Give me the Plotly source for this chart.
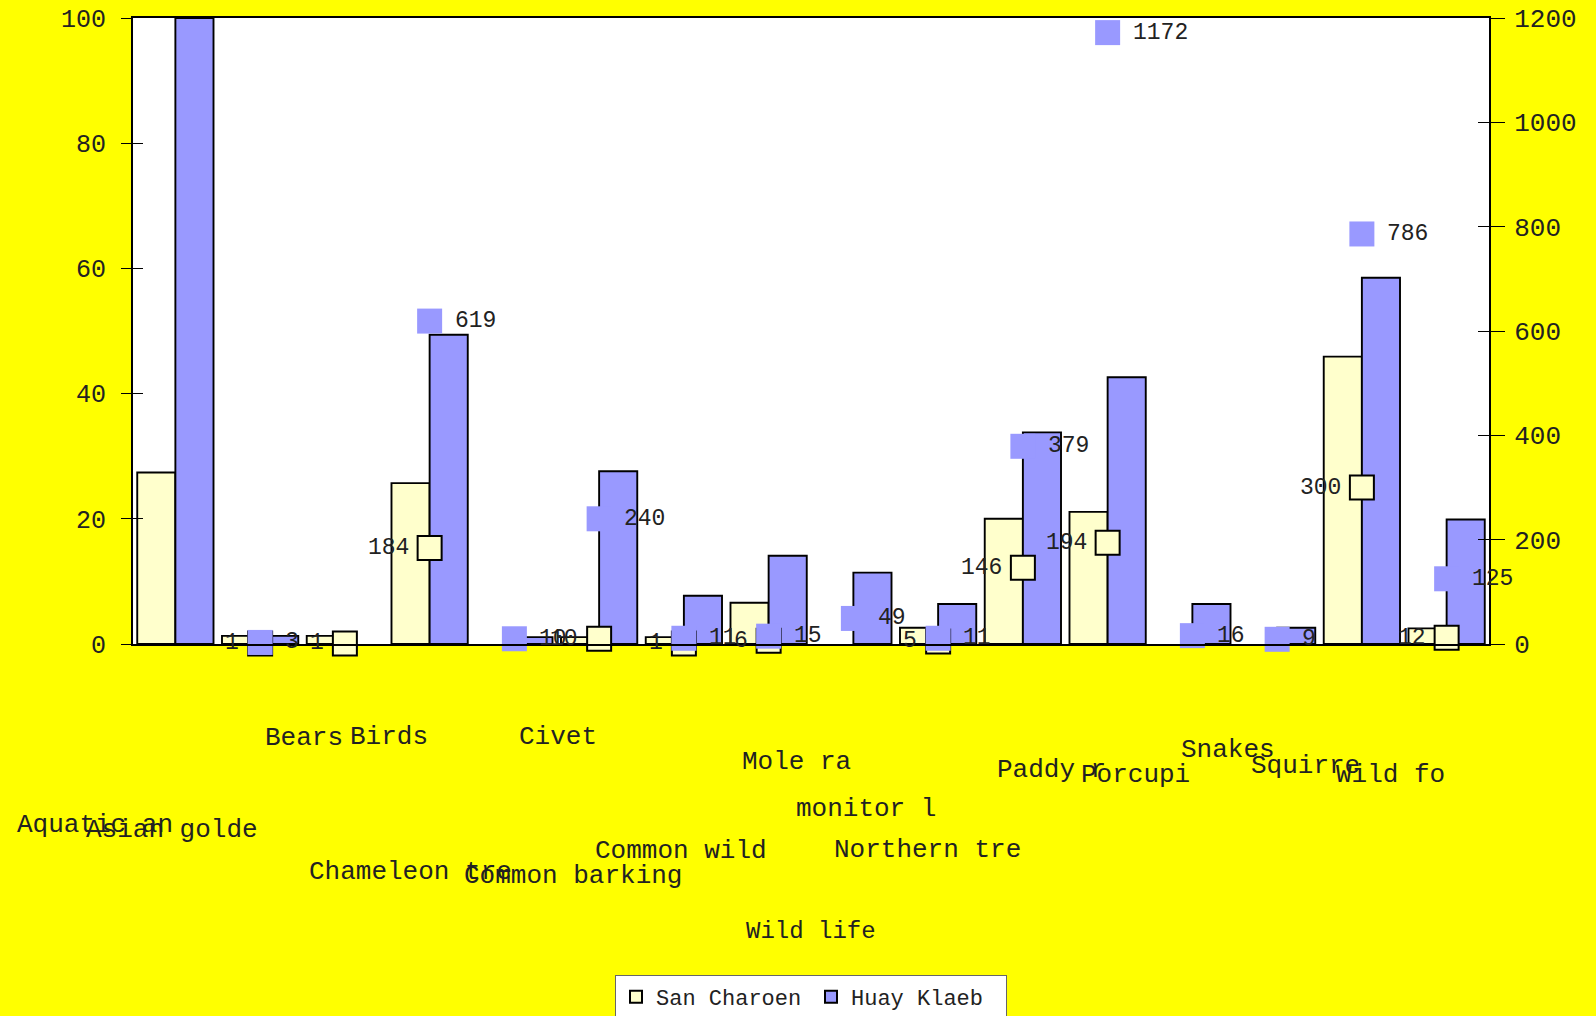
import plotly.graph_objects as go

# ---- data -------------------------------------------------------------
categories = [
    "Aquatic an", "Asian golde", "Bears", "Birds", "Chameleon tre", "Civet",
    "Common barking", "Common wild", "Mole ra", "monitor l", "Northern tre",
    "Paddy r", "Porcupi", "Snakes", "Squirre", "Wild fo",
]
series_names = ["San Charoen", "Huay Klaeb"]

# share of animals (%), left axis
san_charoen_pct = [27.4, 1.3, 1.3, 25.7, None, 1.1, 1.1, 6.6, None, 2.6,
                   20.0, 21.1, None, None, 45.9, 2.5]
huay_klaeb_pct = [100, 1.3, None, 49.4, 1.1, 27.6, 7.7, 14.1, 11.4, 6.4,
                  33.8, 42.6, 6.4, 2.6, 58.5, 19.9]

# number of animals, right axis
san_charoen_n = [None, 1, 1, 184, None, 10, 1, 6, None, 5,
                 146, 194, None, None, 300, 12]
huay_klaeb_n = [None, 3, None, 619, 10, 240, 11, 15, 49, 11,
                379, 1172, 16, 9, 786, 125]

axis_title = "Wild life"
left_ticks = [0, 20, 40, 60, 80, 100]
right_ticks = [0, 200, 400, 600, 800, 1000, 1200]

# ---- layout constants ------------------------------------------------
W, H = 1596, 1016
MARGIN = dict(l=133, r=107, t=18, b=372)
PLOT_BOTTOM = H - MARGIN["b"]
PLOT_H = H - MARGIN["t"] - MARGIN["b"]

PAGE = "#ffff00"
YELLOW = "#ffffcc"
BLUE = "#9999ff"
INK = "#222222"
FONT = "Liberation Mono"

# page row (px) of the centre of each staggered category label
label_rows = [825, 830, 738, 737, 872, 737, 876, 851, 762,
              809, 850, 770, 775, 750, 766, 775]
title_row = 931
legend_top = 975

fig = go.Figure()

# bars on the percentage axis
fig.add_bar(
    x=categories, y=san_charoen_pct, name=series_names[0], yaxis="y",
    marker=dict(color=YELLOW, line=dict(color="black", width=1.9)),
)
fig.add_bar(
    x=categories, y=huay_klaeb_pct, name=series_names[1], yaxis="y",
    marker=dict(color=BLUE, line=dict(color="black", width=1.9)),
)

# square markers on the count axis
fig.add_scatter(
    x=categories, y=san_charoen_n, yaxis="y2", mode="markers",
    marker=dict(symbol="square", size=24, color=YELLOW,
                line=dict(color="black", width=2)),
    showlegend=False, cliponaxis=False, hoverinfo="skip",
)
fig.add_scatter(
    x=categories, y=huay_klaeb_n, yaxis="y2", mode="markers",
    marker=dict(symbol="square", size=25, color=BLUE, line=dict(width=0)),
    showlegend=False, cliponaxis=False, hoverinfo="skip",
)

# invisible helpers so the inner tick axes get drawn
for ax in ("y3", "y4"):
    fig.add_scatter(x=[categories[0]], y=[0], yaxis=ax, mode="markers",
                    marker=dict(size=1, opacity=0), showlegend=False,
                    hoverinfo="skip")

annotations = []
label_font = dict(family=FONT, size=23, color=INK)

# value labels: San Charoen to the left of its marker, Huay Klaeb to the right
for cat, v in zip(categories, san_charoen_n):
    if v is None:
        continue
    annotations.append(dict(
        x=cat, y=v, xref="x", yref="y2", text=str(v), showarrow=False,
        xanchor="right", yanchor="middle", xshift=-19, font=label_font,
    ))
for cat, v in zip(categories, huay_klaeb_n):
    if v is None:
        continue
    annotations.append(dict(
        x=cat, y=v, xref="x", yref="y2", text=str(v), showarrow=False,
        xanchor="left", yanchor="middle", xshift=23, font=label_font,
    ))

# staggered category labels, ending at the centre of their group
for cat, row in zip(categories, label_rows):
    annotations.append(dict(
        x=cat, y=0, xref="x", yref="paper", text=cat, showarrow=False,
        xanchor="right", yanchor="middle", yshift=-(row - PLOT_BOTTOM),
        font=dict(family=FONT, size=26, color=INK),
    ))

# x axis title
annotations.append(dict(
    x=0.5, y=0, xref="paper", yref="paper", text=axis_title, showarrow=False,
    xanchor="center", yanchor="middle", yshift=-(title_row - PLOT_BOTTOM),
    font=dict(family=FONT, size=24, color=INK),
))

n_cat = len(categories)

fig.update_layout(
    width=W, height=H, margin=dict(MARGIN, autoexpand=False),
    paper_bgcolor=PAGE, plot_bgcolor="white",
    barmode="group", bargap=0.1, bargroupgap=0,
    font=dict(family=FONT, color=INK),
    showlegend=True,
    legend=dict(
        orientation="h", x=0.5, xanchor="center", xref="paper",
        y=(H - legend_top) / H, yref="container", yanchor="top",
        bgcolor="white", bordercolor="#666666", borderwidth=1,
        font=dict(family=FONT, size=22, color=INK),
        entrywidth=150, entrywidthmode="pixels",
        itemsizing="constant",
    ),
    xaxis=dict(
        type="category", range=[-0.5, n_cat - 0.5], autorange=False,
        showticklabels=False, ticks="", automargin=False,
        showline=True, linecolor="black", linewidth=2, mirror=True,
        showgrid=False, zeroline=False,
    ),
    yaxis=dict(
        range=[0, 100], tickvals=left_ticks, ticks="outside", ticklen=10,
        tickcolor="black", tickwidth=1, automargin=False,
        tickfont=dict(family=FONT, size=25, color=INK),
        ticklabelstandoff=10,
        showline=True, linecolor="black", linewidth=2,
        showgrid=False, zeroline=False,
    ),
    yaxis2=dict(
        range=[0, 1200], tickvals=right_ticks, overlaying="y", side="right",
        ticks="outside", ticklen=14, tickcolor="black", tickwidth=1,
        automargin=False,
        tickfont=dict(family=FONT, size=26, color=INK),
        ticklabelstandoff=4,
        showline=True, linecolor="black", linewidth=2,
        showgrid=False, zeroline=False,
    ),
    yaxis3=dict(
        range=[0, 100], tickvals=left_ticks, overlaying="y", side="left",
        ticks="inside", ticklen=10, tickcolor="black", tickwidth=1,
        automargin=False,
        showticklabels=False, showline=False, showgrid=False, zeroline=False,
    ),
    yaxis4=dict(
        range=[0, 1200], tickvals=right_ticks, overlaying="y", side="right",
        ticks="inside", ticklen=11, tickcolor="black", tickwidth=1,
        automargin=False,
        showticklabels=False, showline=False, showgrid=False, zeroline=False,
    ),
    annotations=annotations,
)

fig.write_html("out.html")
